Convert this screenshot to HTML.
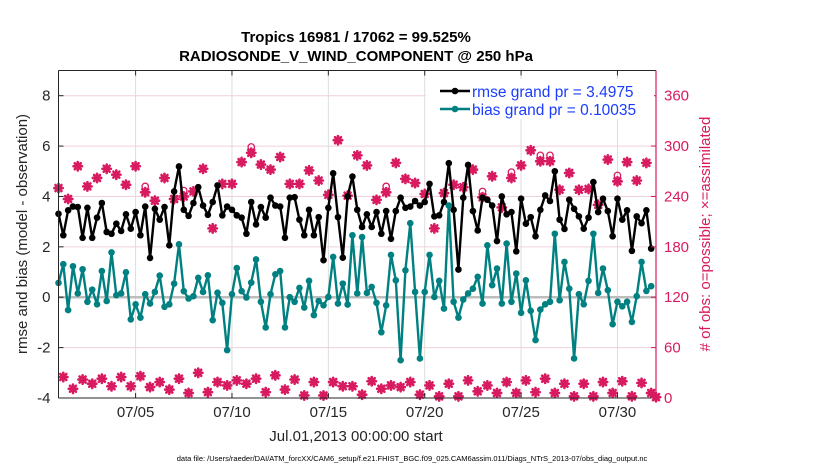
<!DOCTYPE html>
<html><head><meta charset="utf-8">
<style>
body{margin:0;background:#fff;}
svg{display:block;font-family:"Liberation Sans",Arial,sans-serif;}
</style></head>
<body>
<svg id="chart" width="830" height="470" viewBox="0 0 830 470"></svg>
<script>
const rmse=[3.31,2.46,3.45,3.6,3.58,2.36,3.55,2.36,3.16,3.74,2.59,2.52,2.92,2.63,3.29,2.72,3.38,2.46,3.6,1.56,3.51,3.08,3.58,2.06,4.2,5.19,3.47,3.23,3.74,4.37,3.64,3.27,
3.78,4.44,3.25,3.6,3.47,3.25,3.16,2.52,3.78,2.89,3.58,3.16,3.95,3.64,3.6,2.36,3.95,3.97,3.08,2.46,3.47,2.46,3.18,1.47,3.55,4.92,3.18,1.57,4.0,4.79,3.47,
2.79,3.29,2.79,3.38,2.52,3.42,2.32,3.42,3.95,3.55,3.6,3.82,3.64,3.78,4.5,3.21,3.25,3.78,5.32,3.47,1.1,3.95,5.25,3.42,2.65,3.95,3.87,3.64,2.23,4.0,3.29,
3.38,1.82,3.91,2.92,3.18,2.42,3.47,4.04,3.82,5.0,3.08,2.71,3.87,3.51,3.21,2.72,3.16,4.57,3.38,3.91,3.42,2.42,3.91,3.08,3.45,1.84,3.21,2.94,3.45,1.93];
const bias=[0.57,1.31,-0.51,1.23,0.15,1.11,-0.18,0.3,-0.28,1.04,-0.15,1.78,0.08,0.15,0.99,-0.88,-0.28,-0.81,0.12,-0.25,0.21,0.86,-0.38,-0.28,0.54,2.1,0.24,-0.05,0.04,0.77,0.21,0.87,
-0.91,0.18,-0.22,-2.1,0.12,1.16,0.24,-0.01,0.58,1.5,-0.18,-1.2,0.12,0.91,1.04,-1.2,0,-0.18,0.37,-0.41,0.65,-0.71,-0.15,-0.32,0.01,1.6,-0.25,0.54,-0.29,2.46,0.15,
2.39,0.17,0.41,-0.22,-1.39,-0.32,1.68,0.67,-2.5,1.07,2.94,0.21,-2.43,0.21,1.68,0.01,0.65,-0.45,3.64,-0.18,-0.81,-0.09,0.15,0.34,0.81,-0.25,2.06,0.48,1.14,-0.25,2.13,
-0.18,0.94,-0.62,0.67,-0.54,-1.7,-0.49,-0.28,-0.18,2.52,-0.12,1.4,0.34,-2.43,0.12,-0.28,0.65,2.52,0.17,1.14,0.28,-1.07,-0.18,-0.36,-0.18,-0.98,0.04,1.4,0.25,0.44];
const countsEven=[250,237,276,252,262,273,266,254,276,245,235,262,237,240,246,273,
202,255,255,281,292,278,272,287,255,255,271,259,242,307,241,289,
277,236,245,280,261,256,243,202,244,254,251,272,239,264,227,
262,277,295,282,282,248,268,248,249,230,284,258,281,259,280,1];
const countsOdd=[25,11,22,17,23,14,25,14,26,13,19,10,23,6,30,7,19,15,21,17,23,7,27,10,22,3,19,3,19,14,14,4,
20,11,15,13,19,4,15,2,17,2,21,8,15,6,19,6,21,7,23,6,17,2,17,2,19,6,20,2,18,6];
const possibleExtraIdx=[18,40,68,88,94,116,100,102,26];
const leftTicks=[-4,-2,0,2,4,6,8];
const rightTicks=[0,60,120,180,240,300,360];
const dayTicks=[4,9,14,19,24,29];
const dayLabels=["07/05","07/10","07/15","07/20","07/25","07/30"];

const NS="http://www.w3.org/2000/svg";
const svg=document.getElementById('chart');
const L=58.5,R=656,T=70.5,B=398;
const X0=0,X1=31;
const sx=d=>L+(d-X0)/(X1-X0)*(R-L);
const sy=v=>B-(v+4)/13*(B-T);
const sr=c=>B-c/390*(B-T);
function mk(tag,attrs,parent){const e=document.createElementNS(NS,tag);for(const k in attrs)e.setAttribute(k,attrs[k]);(parent||svg).appendChild(e);return e;}

leftTicks.forEach(v=>{const g=mk('line',{x1:L,x2:R,y1:sy(v),y2:sy(v),stroke:'#f0d0dc','stroke-width':1});

});
dayTicks.forEach(d=>{const g=mk('line',{x1:sx(d),x2:sx(d),y1:T,y2:B,stroke:'#dcdcdc','stroke-width':1});

});
const z=mk('line',{x1:L,x2:R,y1:sy(0),y2:sy(0),stroke:'#bdbdbd','stroke-width':2.5});



const cg=mk('g',{});


function obsMark(i,c,poss){
  const x=sx(i/4),y=sr(c);
  if(poss!==undefined){const o=mk('circle',{cx:x,cy:sr(poss),r:3.2,fill:'none',stroke:'#d81b60','stroke-width':1.3},cg);
  
  }
  const m=mk('path',{d:`M${x-3},${y-3}L${x+3},${y+3}M${x-3},${y+3}L${x+3},${y-3}M${x-4.2},${y}L${x+4.2},${y}M${x},${y-4.2}L${x},${y+4.2}`,stroke:'#d81b60','stroke-width':2.6,'stroke-linecap':'round'},cg);
  
  
  const f=mk('circle',{cx:x,cy:y,r:2.8,fill:'#d81b60'},cg);
  
  
}
countsEven.forEach((c,k)=>{const i=2*k;obsMark(i,c,possibleExtraIdx.includes(i)?c+7:undefined);});
countsOdd.forEach((c,k)=>obsMark(2*k+1,c));

function series(arr,color,name){
  const g=mk('g',{});
  
  
  const pts=arr.map((v,i)=>`${sx(i/4).toFixed(1)},${sy(v).toFixed(1)}`).join(' ');
  const pl=mk('polyline',{points:pts,fill:'none',stroke:color,'stroke-width':2.4,'stroke-linejoin':'round'},g);
  
  
  arr.forEach((v,i)=>{const c=mk('circle',{cx:sx(i/4),cy:sy(v),r:3.3,fill:color},g);
  
  });
}
series(rmse,'#000000','rmse-series');
series(bias,'#008080','bias-series');

const ax=mk('g',{});


mk('line',{x1:L,x2:R,y1:T,y2:T,stroke:'#262626','stroke-width':1},ax);
mk('line',{x1:L,x2:R,y1:B,y2:B,stroke:'#262626','stroke-width':1},ax);
mk('line',{x1:L,x2:L,y1:T,y2:B,stroke:'#262626','stroke-width':1},ax);
mk('line',{x1:R,x2:R,y1:T,y2:B,stroke:'#d81b60','stroke-width':1.2},ax);
leftTicks.forEach(v=>{mk('line',{x1:L,x2:L+5,y1:sy(v),y2:sy(v),stroke:'#262626'},ax);
 const t=mk('text',{x:L-8,y:sy(v)+5,'text-anchor':'end','font-size':15,fill:'#262626'},ax);t.textContent=v;
 
 });
rightTicks.forEach(c=>{mk('line',{x1:R-5,x2:R,y1:sr(c),y2:sr(c),stroke:'#d81b60'},ax);
 const t=mk('text',{x:R+8,y:sr(c)+5,'font-size':15,fill:'#d81b60'},ax);t.textContent=c;
 
 });
dayTicks.forEach((d,k)=>{mk('line',{x1:sx(d),x2:sx(d),y1:B,y2:B-5,stroke:'#262626'},ax);mk('line',{x1:sx(d),x2:sx(d),y1:T,y2:T+5,stroke:'#262626'},ax);
 const t=mk('text',{x:sx(d),y:417,'text-anchor':'middle','font-size':15,fill:'#262626'},ax);t.textContent=dayLabels[k];
 
 });
</script>
<svg width="830" height="470" style="position:absolute;left:0;top:0">
<text x="356" y="42" text-anchor="middle" font-size="15" font-weight="bold" fill="#000" font-family="Liberation Sans, sans-serif">Tropics 16981 / 17062 = 99.525%</text>
<text x="356" y="61" text-anchor="middle" font-size="15" font-weight="bold" fill="#000" font-family="Liberation Sans, sans-serif">RADIOSONDE_V_WIND_COMPONENT @ 250 hPa</text>
<text transform="translate(27,234) rotate(-90)" text-anchor="middle" font-size="15" fill="#262626" font-family="Liberation Sans, sans-serif">rmse and bias (model - observation)</text>
<text transform="translate(710,234) rotate(-90)" text-anchor="middle" font-size="15" fill="#d81b60" font-family="Liberation Sans, sans-serif"># of obs: o=possible; ×=assimilated</text>
<text x="356" y="441" text-anchor="middle" font-size="15" fill="#262626" font-family="Liberation Sans, sans-serif">Jul.01,2013 00:00:00 start</text>
<text x="412" y="461" text-anchor="middle" font-size="7.5" fill="#000" font-family="Liberation Sans, sans-serif">data file: /Users/raeder/DAI/ATM_forcXX/CAM6_setup/f.e21.FHIST_BGC.f09_025.CAM6assim.011/Diags_NTrS_2013-07/obs_diag_output.nc</text>
<g>
<rect x="426" y="79" width="228" height="40" fill="#fff"/>
<g>
<line x1="440" x2="470" y1="91" y2="91" stroke="#000" stroke-width="2.4"/><circle cx="455" cy="91" r="3.3" fill="#000"/>
<text x="472" y="97" font-size="15.5" fill="#1a3cff" font-family="Liberation Sans, sans-serif">rmse grand pr = 3.4975</text></g>
<g>
<line x1="440" x2="470" y1="109" y2="109" stroke="#008080" stroke-width="2.4"/><circle cx="455" cy="109" r="3.3" fill="#008080"/>
<text x="472" y="115" font-size="15.5" fill="#1a3cff" font-family="Liberation Sans, sans-serif">bias grand pr = 0.10035</text></g>
</g>
</svg>
</body></html>
